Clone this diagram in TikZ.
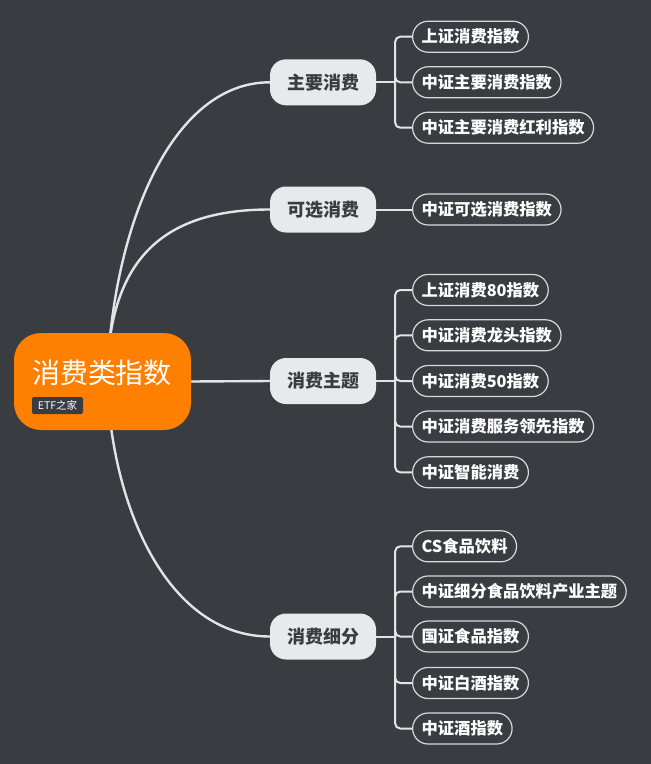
\documentclass[tikz,border=0pt]{standalone}
\usepackage{fontspec}
\setmainfont{Noto Sans CJK SC}
\definecolor{bgc}{HTML}{393C41}
\definecolor{rootc}{HTML}{FF8000}
\definecolor{branchc}{HTML}{E8E9EB}
\definecolor{linec}{HTML}{E4E4E6}
\definecolor{leafc}{HTML}{D8D8DA}
\pgfdeclarelayer{canvas}
\pgfdeclarelayer{back}
\pgfsetlayers{canvas,back,main}
\tikzset{
  rootbox/.style={fill=rootc, rounded corners=27pt, minimum width=177pt, minimum height=97pt, inner sep=0pt},
  roottext/.style={text=white, inner sep=0pt, font=\fontsize{28}{32}\selectfont},
  etfbox/.style={fill=bgc, text=white, rounded corners=2pt, minimum width=51pt, minimum height=17pt, inner sep=0pt, font=\fontsize{10.5}{12}\selectfont},
  branchbox/.style={fill=branchc, text=bgc, rounded corners=16pt, minimum width=106pt, minimum height=46pt, inner sep=0pt, font=\bfseries\fontsize{18}{20}\selectfont},
  leafbox/.style={draw=leafc, line width=1.2pt, text=white, rounded corners=15.5pt, minimum height=31pt, inner xsep=9pt, inner ysep=0pt, anchor=west, font=\bfseries\fontsize{16.3}{18}\selectfont},
  mainconn/.style={draw=linec, line width=2.4pt},
  leafconn/.style={draw=linec, line width=2pt, rounded corners=5pt},
}
\begin{document}
\begin{tikzpicture}[x=1pt,y=-1pt]
\begin{pgfonlayer}{canvas}
\fill[bgc] (0,0) rectangle (651,764);
\end{pgfonlayer}
\useasboundingbox (0,0) rectangle (651,764);

% root
\node[rootbox] (root) at (102.5,381.5) {};
\node[roottext] (rt) at (102,372.5) {消费类指数};
\node[etfbox] (etf) at (57.5,405.5) {ETF之家};
\coordinate (rc) at (107,381);

% branches
\node[branchbox] (b1) at (323,82.3) {主要消费};
\node[branchbox] (b2) at (323,209.5) {可选消费};
\node[branchbox] (b3) at (323,381) {消费主题};
\node[branchbox] (b4) at (323,636.5) {消费细分};

% leaves
\node[leafbox] (l11) at (412,36.7) {上证消费指数};
\node[leafbox] (l12) at (412,82.3) {中证主要消费指数};
\node[leafbox] (l13) at (412,127.7) {中证主要消费红利指数};

\node[leafbox] (l21) at (412,209.5) {中证可选消费指数};

\node[leafbox] (l31) at (412,290) {上证消费80指数};
\node[leafbox] (l32) at (412,335.3) {中证消费龙头指数};
\node[leafbox] (l33) at (412,381) {中证消费50指数};
\node[leafbox] (l34) at (412,426.5) {中证消费服务领先指数};
\node[leafbox] (l35) at (412,472.3) {中证智能消费};

\node[leafbox] (l41) at (412,546.3) {CS食品饮料};
\node[leafbox] (l42) at (412,591.5) {中证细分食品饮料产业主题};
\node[leafbox] (l43) at (412,636.5) {国证食品指数};
\node[leafbox] (l44) at (412,683) {中证白酒指数};
\node[leafbox] (l45) at (412,728.5) {中证酒指数};

\coordinate (s1) at ([xshift=19pt]b1.east);
\coordinate (s3) at ([xshift=19pt]b3.east);
\coordinate (s4) at ([xshift=19pt]b4.east);

\begin{pgfonlayer}{back}
  \draw[mainconn] (rc) .. controls (112,230) and (170,82.3) .. (b1.west);
  \draw[mainconn] (rc) .. controls (108,262) and (160,209.5) .. (b2.west);
  \draw[mainconn] (root.east) -- (b3.west);
  \draw[mainconn] (rc) .. controls (112,512) and (170,636.5) .. (b4.west);

  \draw[leafconn] (b1.east) -- (s1);
  \foreach \l in {l11,l12,l13} \draw[leafconn] (s1) |- (\l.west);
  \draw[leafconn] (b2.east) -- (l21.west);
  \draw[leafconn] (b3.east) -- (s3);
  \foreach \l in {l31,l32,l33,l34,l35} \draw[leafconn] (s3) |- (\l.west);
  \draw[leafconn] (b4.east) -- (s4);
  \foreach \l in {l41,l42,l43,l44,l45} \draw[leafconn] (s4) |- (\l.west);
\end{pgfonlayer}
\end{tikzpicture}
\end{document}
